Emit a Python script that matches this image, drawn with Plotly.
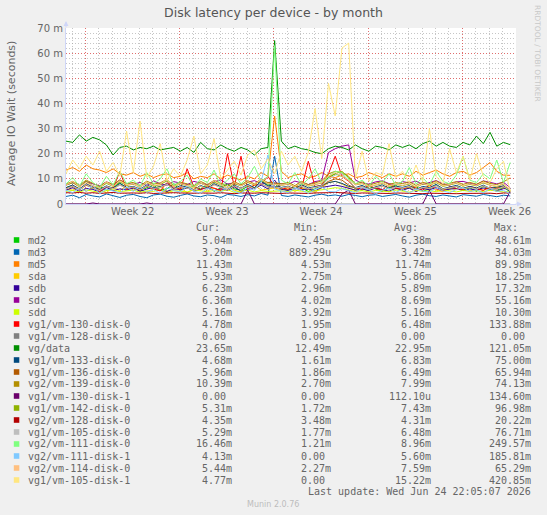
import plotly.graph_objects as go

# ---------------- data ----------------
days = [i * 0.5 for i in range(67)]  # sample times (days from left edge of graph)

md2 = [6.5, 7.5, 5.5, 8.0, 6.0, 7.0, 5.5, 6.5, 8.5, 6.0,
       7.0, 5.0, 6.5, 7.5, 5.5, 6.0, 8.0, 5.5, 6.5, 7.0,
       6.0, 7.5, 5.0, 6.5, 8.0, 6.0, 5.5, 7.0, 6.5, 9.0,
       7.5, 8.0, 6.0, 5.5, 7.0, 6.5, 5.0, 6.0, 7.5, 10.5,
       12.0, 11.0, 9.5, 6.0, 5.5, 7.0, 6.0, 5.0, 6.5, 7.5,
       5.5, 6.5, 7.0, 5.0, 6.0, 7.5, 5.5, 6.0, 7.0, 5.5,
       6.5, 5.0, 7.0, 6.0, 5.5, 6.5, 5.0]
md3 = [3.0, 3.5, 2.5, 3.8, 3.2, 2.8, 4.0, 3.3, 2.6, 3.5,
       3.8, 3.0, 2.5, 3.6, 3.9, 3.1, 2.7, 3.4, 4.0, 3.2,
       2.9, 3.6, 3.3, 2.6, 3.8, 3.5, 3.0, 3.7, 3.2, 4.2,
       3.5, 19.0, 3.4, 3.0, 3.6, 3.2, 2.8, 3.5, 3.9, 3.3,
       3.6, 3.1, 3.8, 3.4, 2.9, 3.5, 3.7, 3.0, 3.4, 3.8,
       3.2, 2.7, 3.5, 3.9, 3.3, 3.0, 3.6, 3.2, 2.8, 3.7,
       3.4, 3.1, 3.8, 3.3, 2.9, 3.5, 3.2]
md5 = [13.5, 14.5, 13.0, 15.5, 14.0, 13.5, 12.5, 14.0, 12.0, 11.5,
       12.5, 11.0, 12.0, 10.5, 11.5, 12.0, 10.5, 11.0, 12.5, 10.0,
       11.0, 10.5, 12.0, 10.0, 11.5, 10.5, 9.5, 11.0, 10.0, 12.5,
       11.0, 35.0, 13.0, 10.5, 11.5, 12.0, 10.5, 11.0, 12.5, 11.0,
       10.5, 11.5, 12.0, 10.5, 11.0, 12.5, 11.5, 10.5, 12.0, 11.0,
       12.0, 11.0, 13.0, 11.5, 12.5, 13.5, 12.0, 11.0, 12.5, 13.0,
       11.5, 12.5, 14.5, 16.5, 13.0, 11.5, 11.4]
sda = [6.0, 5.5, 7.0, 5.0, 6.5, 5.8, 4.5, 6.8, 5.2, 7.5,
       5.5, 6.2, 4.8, 6.0, 7.2, 5.0, 5.8, 6.5, 4.5, 6.0,
       7.0, 5.2, 6.3, 5.0, 6.8, 5.5, 4.8, 6.2, 7.5, 5.5,
       6.0, 6.4, 5.5, 6.5, 5.0, 6.2, 5.8, 4.6, 6.5, 8.5,
       9.0, 8.0, 6.5, 5.5, 6.0, 5.2, 6.8, 5.5, 4.8, 6.2,
       5.8, 6.5, 5.0, 6.2, 7.0, 5.5, 4.9, 6.3, 5.7, 6.8,
       5.2, 6.0, 5.5, 6.6, 5.0, 6.3, 5.9]
sdb = [5.5, 6.5, 5.0, 6.2, 5.8, 4.8, 6.6, 5.3, 6.0, 5.6,
       6.3, 5.1, 5.9, 6.7, 5.4, 5.0, 6.1, 5.7, 6.4, 5.2,
       5.8, 6.5, 5.3, 6.0, 5.5, 6.8, 5.1, 5.9, 6.2, 7.5,
       6.0, 9.5, 5.8, 5.4, 6.3, 5.7, 6.0, 5.2, 6.6, 7.0,
       7.5, 7.0, 6.2, 5.5, 6.0, 5.3, 6.4, 5.8, 5.1, 6.2,
       5.6, 6.3, 5.0, 6.1, 5.7, 6.5, 5.4, 5.9, 6.2, 5.3,
       6.0, 5.5, 6.4, 5.8, 5.2, 6.1, 6.2]
sdc = [7.5, 8.5, 7.0, 9.0, 8.0, 7.2, 8.8, 7.6, 9.5, 8.2,
       7.8, 8.6, 7.3, 9.2, 8.0, 7.5, 8.9, 8.3, 7.7, 9.0,
       8.4, 7.6, 8.8, 9.6, 7.9, 8.5, 7.4, 8.7, 9.3, 8.0,
       8.6, 8.3, 8.2, 7.8, 9.1, 8.4, 7.7, 8.9, 9.4, 20.5,
       22.0, 23.0, 23.5, 9.5, 8.3, 7.9, 8.8, 9.2, 8.1, 7.6,
       8.9, 8.4, 9.1, 7.8, 8.6, 9.3, 8.0, 7.5, 8.8, 9.0,
       8.2, 7.7, 9.2, 8.5, 8.0, 8.7, 6.4]
sdd = [5.0, 5.4, 4.8, 5.6, 5.1, 4.6, 5.3, 5.7, 4.9, 5.2,
       5.5, 4.7, 5.2, 5.0, 5.8, 4.5, 5.3, 5.1, 4.8, 5.6,
       5.2, 4.9, 5.4, 5.0, 5.7, 4.6, 5.1, 5.5, 4.8, 5.3,
       5.0, 5.2, 5.2, 4.9, 5.5, 5.1, 4.7, 5.3, 5.6, 6.0,
       6.5, 6.2, 5.5, 5.0, 5.3, 4.8, 5.4, 5.1, 4.9, 5.6,
       5.2, 4.7, 5.5, 5.0, 5.3, 4.9, 5.6, 5.1, 4.8, 5.4,
       5.0, 5.3, 4.9, 5.5, 5.1, 4.8, 5.2]
vg1_vm130_d0 = [6.0, 7.5, 5.5, 8.0, 6.5, 5.0, 7.0, 6.2, 13.0, 5.8,
                6.8, 5.5, 7.2, 6.0, 5.2, 8.5, 6.4, 5.9, 14.0, 6.6,
                5.7, 7.0, 6.3, 5.4, 20.0, 6.8, 19.0, 6.0, 7.5, 8.0,
                11.0, 7.0, 6.5, 5.8, 7.2, 6.1, 17.0, 6.9, 7.5, 12.0,
                19.0, 11.0, 9.0, 6.5, 5.9, 7.4, 6.2, 5.6, 7.8, 6.3,
                5.8, 7.1, 6.4, 5.5, 7.6, 6.0, 5.3, 6.9, 6.2, 5.7,
                7.0, 6.1, 5.4, 6.8, 5.9, 7.2, 4.8]
vg1_vm128_d0 = [0.0, 0.0, 0.0, 0.0, 0.0, 0.0, 0.0, 0.0, 0.0, 0.0,
                0.0, 0.0, 0.0, 0.0, 0.0, 0.0, 0.0, 0.0, 0.0, 0.0,
                0.0, 0.0, 0.0, 0.0, 0.0, 0.0, 0.0, 0.0, 0.0, 0.0,
                0.0, 0.0, 0.0, 0.0, 0.0, 0.0, 0.0, 0.0, 0.0, 0.0,
                0.0, 0.0, 0.0, 0.0, 0.0, 0.0, 0.0, 0.0, 0.0, 0.0,
                0.0, 0.0, 0.0, 0.0, 0.0, 0.0, 0.0, 0.0, 0.0, 0.0,
                0.0, 0.0, 0.0, 0.0, 0.0, 0.0, 0.0]
vg_data = [25.0, 24.5, 27.5, 25.0, 26.5, 25.5, 23.5, 19.5, 22.5, 23.0,
           21.5, 22.5, 22.0, 23.0, 21.5, 22.0, 22.5, 21.0, 22.5, 20.5,
           24.5, 22.0, 21.5, 23.5, 22.0, 21.0, 22.5, 21.5, 19.5, 22.0,
           22.5, 65.0, 25.0, 22.0, 23.0, 22.0, 21.5, 20.5, 20.0, 22.0,
           23.0, 22.5, 21.5, 23.5, 22.0, 21.0, 23.0, 22.5, 21.5, 23.5,
           22.5, 23.5, 22.0, 24.0, 25.0, 23.0, 24.5, 23.0, 22.5, 24.5,
           23.5, 27.0, 24.0, 28.5, 23.0, 24.5, 23.6]
vg1_vm133_d0 = [6.5, 7.5, 6.0, 8.0, 6.8, 5.8, 7.2, 6.3, 8.2, 6.6,
                7.0, 5.9, 7.6, 6.4, 6.9, 8.0, 6.1, 7.3, 6.7, 5.6,
                7.4, 6.2, 8.1, 6.8, 5.7, 7.5, 6.3, 7.8, 6.5, 9.0,
                7.2, 7.0, 6.6, 7.1, 5.9, 7.7, 6.4, 6.9, 7.3, 8.5,
                9.0, 8.2, 7.0, 6.5, 7.4, 6.0, 6.8, 7.6, 6.2, 7.1,
                6.6, 7.3, 5.8, 7.0, 6.5, 7.8, 6.1, 6.9, 7.4, 6.3,
                7.0, 6.4, 7.5, 6.2, 6.8, 7.2, 4.7]
vg1_vm136_d0 = [6.2, 7.0, 5.8, 7.4, 6.5, 5.6, 6.9, 6.1, 7.6, 6.3,
                6.7, 5.5, 7.2, 6.0, 6.6, 7.8, 5.9, 6.8, 6.4, 5.7,
                7.1, 6.0, 7.7, 6.5, 5.5, 7.0, 6.2, 7.4, 6.1, 8.0,
                6.8, 6.6, 6.3, 6.9, 5.8, 7.2, 6.0, 6.6, 7.0, 9.0,
                10.0, 9.5, 7.5, 6.3, 6.9, 5.9, 6.4, 7.1, 6.0, 6.7,
                6.2, 7.0, 5.7, 6.6, 6.1, 7.3, 5.9, 6.5, 7.0, 6.0,
                6.7, 6.1, 7.2, 5.9, 6.4, 6.8, 6.0]
vg2_vm139_d0 = [8.0, 9.0, 7.5, 9.5, 8.2, 7.0, 8.8, 7.8, 9.6, 8.1,
                8.6, 7.2, 9.1, 7.9, 8.4, 9.8, 7.4, 8.7, 8.0, 7.3,
                9.0, 7.7, 9.4, 8.2, 7.1, 8.9, 7.6, 9.3, 8.0, 10.0,
                8.5, 8.4, 8.0, 8.6, 7.3, 9.0, 7.7, 8.4, 9.2, 12.0,
                13.0, 12.5, 11.0, 8.0, 8.8, 7.5, 8.3, 9.0, 7.8, 8.5,
                8.1, 8.9, 7.4, 8.6, 8.0, 9.2, 7.6, 8.4, 8.9, 7.8,
                8.6, 7.9, 9.1, 8.2, 7.7, 8.8, 10.4]
vg1_vm130_d1 = [0.0, 0.0, 0.0, 0.0, 0.4, 0.0, 0.0, 0.0, 0.0, 0.0,
                0.0, 0.0, 0.4, 0.0, 0.0, 0.0, 0.0, 0.0, 0.0, 0.3,
                0.0, 0.0, 0.0, 0.0, 0.0, 0.0, 0.0, 5.5, 0.0, 0.0,
                0.0, 0.0, 0.0, 0.0, 0.0, 0.3, 0.0, 0.0, 0.0, 0.0,
                0.0, 4.0, 5.5, 0.0, 0.0, 0.0, 0.0, 0.0, 0.0, 0.3,
                0.0, 0.0, 0.0, 0.0, 5.5, 0.0, 0.0, 0.0, 0.0, 0.0,
                0.3, 0.0, 0.0, 0.0, 0.0, 0.0, 5.0]
vg1_vm142_d0 = [7.5, 8.5, 6.8, 9.0, 7.2, 6.5, 8.2, 7.0, 8.8, 7.4,
                7.9, 6.6, 8.5, 7.1, 7.7, 9.2, 6.9, 8.0, 7.3, 6.7,
                8.3, 7.0, 8.7, 7.5, 6.4, 8.1, 7.2, 8.6, 7.6, 9.5,
                8.0, 7.8, 7.4, 7.9, 6.8, 8.3, 7.1, 7.7, 8.4, 11.0,
                12.0, 13.0, 10.5, 7.6, 8.1, 6.9, 7.5, 8.2, 7.0, 7.8,
                7.3, 8.0, 6.7, 7.9, 7.4, 8.5, 7.0, 7.6, 8.2, 7.1,
                7.8, 7.2, 8.4, 7.5, 6.9, 8.0, 5.3]
vg2_vm128_d0 = [4.5, 4.4, 4.6, 4.3, 4.5, 4.2, 4.4, 4.6, 4.3, 4.5,
                4.4, 4.3, 4.5, 4.2, 4.4, 4.3, 4.5, 4.4, 4.2, 4.3,
                4.4, 4.2, 4.3, 4.5, 4.3, 4.1, 4.4, 4.2, 4.3, 4.5,
                4.3, 4.4, 4.2, 4.4, 4.3, 4.1, 4.2, 4.4, 4.3, 4.5,
                4.6, 4.4, 4.3, 4.2, 4.4, 4.3, 4.1, 4.3, 4.2, 4.4,
                4.3, 4.2, 4.4, 4.1, 4.3, 4.2, 4.4, 4.3, 4.1, 4.2,
                4.3, 4.4, 4.2, 4.3, 4.1, 4.4, 4.35]
vg1_vm105_d0 = [6.0, 7.2, 5.6, 7.8, 6.3, 5.4, 7.0, 6.1, 7.5, 6.4,
                6.8, 5.7, 7.3, 6.2, 6.6, 7.9, 5.8, 6.9, 6.3, 5.5,
                7.1, 6.0, 7.6, 6.5, 5.6, 7.2, 6.2, 7.4, 6.0, 8.2,
                6.7, 6.8, 6.4, 6.9, 5.7, 7.1, 6.1, 6.6, 7.3, 10.0,
                11.5, 12.0, 9.0, 6.4, 6.8, 5.9, 6.5, 7.2, 6.0, 6.7,
                6.3, 7.0, 5.6, 6.6, 6.2, 7.3, 5.9, 6.5, 7.0, 6.1,
                6.6, 6.0, 7.2, 6.3, 5.8, 6.9, 5.3]
vg2_vm111_d0 = [8.0, 10.5, 7.0, 12.0, 8.5, 6.5, 11.0, 7.5, 13.0, 8.0,
                9.5, 7.0, 12.5, 8.0, 10.0, 14.0, 7.5, 9.0, 11.5, 6.5,
                10.0, 8.5, 13.5, 7.0, 9.5, 12.0, 8.0, 10.5, 15.0, 9.0,
                11.0, 63.0, 9.5, 8.0, 12.5, 7.5, 10.0, 14.0, 8.5, 11.0,
                13.0, 12.5, 10.0, 8.0, 9.5, 7.0, 11.0, 8.5, 12.0, 7.5,
                9.0, 14.5, 8.0, 10.5, 7.5, 13.0, 9.0, 8.0, 11.5, 19.0,
                9.5, 8.5, 12.0, 10.0, 17.5, 8.5, 16.5]
vg2_vm111_d1 = [5.5, 4.5, 6.5, 5.0, 7.5, 4.0, 6.0, 5.2, 4.4, 6.8,
                5.0, 7.0, 4.6, 5.8, 4.2, 6.4, 5.3, 4.8, 7.2, 5.1,
                4.3, 6.2, 5.5, 4.7, 6.9, 5.0, 4.1, 6.6, 5.4, 9.0,
                19.5, 6.0, 5.2, 4.5, 6.3, 5.6, 4.2, 5.9, 6.7, 5.0,
                4.8, 6.1, 5.3, 4.4, 6.5, 5.7, 4.0, 5.5, 6.2, 4.6,
                5.9, 4.3, 6.0, 5.1, 4.7, 6.4, 5.2, 4.5, 5.8, 6.6,
                4.9, 5.7, 4.4, 6.1, 5.0, 5.4, 4.1]
vg2_vm114_d0 = [7.5, 9.0, 6.8, 8.5, 7.2, 6.4, 8.8, 7.0, 9.2, 7.6,
                8.0, 6.6, 8.7, 7.3, 7.9, 10.0, 6.9, 8.2, 7.4, 6.5,
                8.4, 7.1, 9.3, 7.6, 6.3, 8.6, 7.2, 8.9, 7.7, 9.8,
                8.1, 7.9, 7.5, 8.0, 6.9, 8.5, 7.3, 7.8, 8.6, 11.0,
                12.5, 11.0, 9.5, 7.7, 8.2, 7.0, 7.6, 8.4, 7.1, 8.0,
                7.4, 8.3, 6.8, 8.1, 7.5, 8.8, 7.2, 7.8, 8.4, 7.3,
                8.0, 7.4, 8.7, 7.6, 7.0, 8.2, 5.4]
vg1_vm105_d1 = [12.0, 17.5, 14.0, 19.0, 15.5, 21.0, 13.0, 16.5, 11.0, 29.0,
                12.5, 33.0, 10.5, 15.0, 24.0, 9.5, 14.0, 11.0, 17.5, 27.0,
                12.0, 15.5, 26.0, 10.0, 13.5, 17.0, 11.5, 19.5, 21.5, 14.0,
                18.0, 12.0, 21.0, 15.5, 19.0, 13.0, 20.5, 38.0, 18.0, 48.0,
                35.0, 62.0, 64.0, 10.0, 21.0, 9.0, 12.5, 11.5, 24.0, 10.5,
                13.0, 8.5, 15.5, 9.0, 30.0, 11.0, 8.0, 22.0, 12.5, 19.0,
                9.5, 20.0, 11.0, 8.5, 14.0, 17.0, 4.8]

series_names = ["md2", "md3", "md5", "sda", "sdb", "sdc", "sdd",
                "vg1/vm-130-disk-0", "vg1/vm-128-disk-0", "vg/data",
                "vg1/vm-133-disk-0", "vg1/vm-136-disk-0", "vg2/vm-139-disk-0",
                "vg1/vm-130-disk-1", "vg1/vm-142-disk-0", "vg2/vm-128-disk-0",
                "vg1/vm-105-disk-0", "vg2/vm-111-disk-0", "vg2/vm-111-disk-1",
                "vg2/vm-114-disk-0", "vg1/vm-105-disk-1"]
series_values = [md2, md3, md5, sda, sdb, sdc, sdd,
                 vg1_vm130_d0, vg1_vm128_d0, vg_data,
                 vg1_vm133_d0, vg1_vm136_d0, vg2_vm139_d0,
                 vg1_vm130_d1, vg1_vm142_d0, vg2_vm128_d0,
                 vg1_vm105_d0, vg2_vm111_d0, vg2_vm111_d1,
                 vg2_vm114_d0, vg1_vm105_d1]
series_colors = ["#00CC00", "#0066B3", "#FF8000", "#FFCC00", "#330099", "#990099", "#CCFF00",
                 "#FF0000", "#808080", "#008F00", "#00487D", "#B35A00", "#B38F00",
                 "#6B006B", "#8FB300", "#B30000", "#BEBEBE", "#80FF80", "#80C9FF",
                 "#FFC080", "#FFE680"]

cur_vals = ["5.04m", "3.20m", "11.43m", "5.93m", "6.23m", "6.36m", "5.16m", "4.78m", "0.00",
            "23.65m", "4.68m", "5.96m", "10.39m", "0.00", "5.31m", "4.35m", "5.29m",
            "16.46m", "4.13m", "5.44m", "4.77m"]
min_vals = ["2.45m", "889.29u", "4.53m", "2.75m", "2.96m", "4.02m", "3.92m", "1.95m", "0.00",
            "12.49m", "1.61m", "1.86m", "2.70m", "0.00", "1.72m", "3.48m", "1.77m",
            "1.21m", "0.00", "2.27m", "0.00"]
avg_vals = ["6.38m", "3.42m", "11.74m", "5.86m", "5.89m", "8.69m", "5.16m", "6.48m", "0.00",
            "22.95m", "6.83m", "6.49m", "7.99m", "112.10u", "7.43m", "4.31m", "6.48m",
            "8.96m", "5.60m", "7.59m", "15.22m"]
max_vals = ["48.61m", "34.03m", "89.98m", "18.25m", "17.32m", "55.16m", "10.30m", "133.88m",
            "0.00", "121.05m", "75.00m", "65.94m", "74.13m", "134.60m", "96.98m", "20.22m",
            "76.71m", "249.57m", "185.81m", "65.29m", "420.85m"]
col_headers = ["Cur:", "Min:", "Avg:", "Max:"]

week_labels = ["Week 22", "Week 23", "Week 24", "Week 25", "Week 26"]
week_centers = [4.95, 11.95, 18.95, 25.95, 32.95]
week_starts = [1.45, 8.45, 15.45, 22.45, 29.45]
y_ticks = [0, 10, 20, 30, 40, 50, 60, 70]
y_ticktext = ["0", "10 m", "20 m", "30 m", "40 m", "50 m", "60 m", "70 m"]

# ---------------- layout helpers ----------------
W, H = 547, 515
L, R, T, B = 66, 516, 28, 204
XMAX = 33.43


def px(x):
    return (x - L) / (R - L)


def py(y):
    return (B - y) / (B - T)


FONT = "DejaVu Sans, Verdana, sans-serif"
MONO = "DejaVu Sans Mono, monospace"
TXT = "#666666"

fig = go.Figure()
for name, vals, col in zip(series_names, series_values, series_colors):
    fig.add_trace(go.Scatter(x=days, y=vals, mode="lines", name=name,
                             line=dict(color=col, width=1), showlegend=False,
                             hoverinfo="skip"))
# helper trace to make the label axis exist
fig.add_trace(go.Scatter(x=[None], y=[None], xaxis="x2", showlegend=False, hoverinfo="skip"))

annotations = []
shapes = []

# y title
annotations.append(dict(text="Average IO Wait (seconds)", x=px(11), y=py(114), xref="paper", yref="paper",
                        textangle=-90, showarrow=False, font=dict(family=FONT, size=11, color=TXT),
                        xanchor="center", yanchor="middle"))
# rrdtool credit
annotations.append(dict(text="RRDTOOL / TOBI OETIKER", x=px(538), y=py(53), xref="paper", yref="paper",
                        textangle=90, showarrow=False, font=dict(family=FONT, size=7.5, color="#C8C8C8"),
                        xanchor="center", yanchor="middle"))
# axis arrows
annotations.append(dict(x=px(522), y=0, xref="paper", yref="paper", ax=-8, ay=0, text="",
                        showarrow=True, arrowhead=2, arrowsize=1, arrowwidth=1, arrowcolor="#CFD6F8"))
annotations.append(dict(x=0, y=py(21), xref="paper", yref="paper", ax=0, ay=8, text="",
                        showarrow=True, arrowhead=2, arrowsize=1, arrowwidth=1, arrowcolor="#CFD6F8"))

# legend table
header_right = [221.6, 320.3, 420.4, 519.9]
col_right = [234, 333.2, 432.7, 533.2]
for h, xr in zip(col_headers, header_right):
    annotations.append(dict(text=h, x=px(xr), y=py(228), xref="paper", yref="paper", showarrow=False,
                            xanchor="right", yanchor="middle", font=dict(family=MONO, size=10, color=TXT)))

for k, (name, col) in enumerate(zip(series_names, series_colors)):
    yc = 240 + 12 * k
    shapes.append(dict(type="rect", xref="paper", yref="paper", x0=px(13.8), x1=px(19.3),
                       y0=py(yc + 2.8), y1=py(yc - 2.8), fillcolor=col, line=dict(width=0)))
    annotations.append(dict(text=name, x=px(26), y=py(yc), xref="paper", yref="paper", showarrow=False,
                            xanchor="left", yanchor="middle", font=dict(family=MONO, size=10, color=TXT)))
    for vals, xr in zip([cur_vals, min_vals, avg_vals, max_vals], col_right):
        s = vals[k]
        if s[-1].isdigit():
            s = s + "\u00a0"
        annotations.append(dict(text=s, x=px(xr), y=py(yc), xref="paper", yref="paper", showarrow=False,
                                xanchor="right", yanchor="middle", font=dict(family=MONO, size=10, color=TXT)))

annotations.append(dict(text="Last update: Wed Jun 24 22:05:07 2026", x=px(533.2), y=py(491), xref="paper",
                        yref="paper", showarrow=False, xanchor="right", yanchor="middle",
                        font=dict(family=MONO, size=10, color=TXT)))
annotations.append(dict(text="Munin 2.0.76", x=px(273), y=py(504.5), xref="paper", yref="paper",
                        showarrow=False, xanchor="center", yanchor="middle",
                        font=dict(family=FONT, size=8, color="#BDBDBD")))

fig.update_layout(
    width=W, height=H,
    margin=dict(l=L, r=W - R, t=T, b=H - B, pad=0),
    paper_bgcolor="#F0F0F0", plot_bgcolor="#FFFFFF",
    title=dict(text="Disk latency per device - by month", x=273.5 / W, xanchor="center",
               y=1 - 13 / H, yanchor="middle", font=dict(family=FONT, size=12.5, color="#555555")),
    xaxis=dict(range=[0, XMAX], tickmode="array", tickvals=week_starts, showticklabels=False,
               ticks="", showgrid=True, gridcolor="rgba(255,0,0,0.45)", griddash="1px,2px",
               gridwidth=1, zeroline=False, showline=True, linecolor="#CFD6F8", linewidth=1,
               layer="above traces",
               minor=dict(tickmode="linear", tick0=0.45, dtick=1, showgrid=True,
                          gridcolor="rgba(160,160,160,0.6)", griddash="1px,2px", gridwidth=1, ticks="")),
    xaxis2=dict(range=[0, XMAX], overlaying="x", anchor="y", side="bottom", tickmode="array",
                tickvals=week_centers, ticktext=week_labels, showgrid=False, zeroline=False,
                ticks="", showline=False,
                tickfont=dict(family=FONT, size=10, color=TXT)),
    yaxis=dict(range=[0, 70], tickmode="array", tickvals=y_ticks, ticktext=y_ticktext, ticks="",
               showgrid=True, gridcolor="rgba(255,0,0,0.45)", griddash="1px,2px", gridwidth=1,
               zeroline=False, showline=True, linecolor="#CFD6F8", linewidth=1, layer="above traces",
               tickfont=dict(family=FONT, size=10, color=TXT),
               minor=dict(tickmode="linear", tick0=0, dtick=2, showgrid=True,
                          gridcolor="rgba(160,160,160,0.6)", griddash="1px,2px", gridwidth=1, ticks="")),
    annotations=annotations,
    shapes=shapes,
)

fig.write_html("out.html")
